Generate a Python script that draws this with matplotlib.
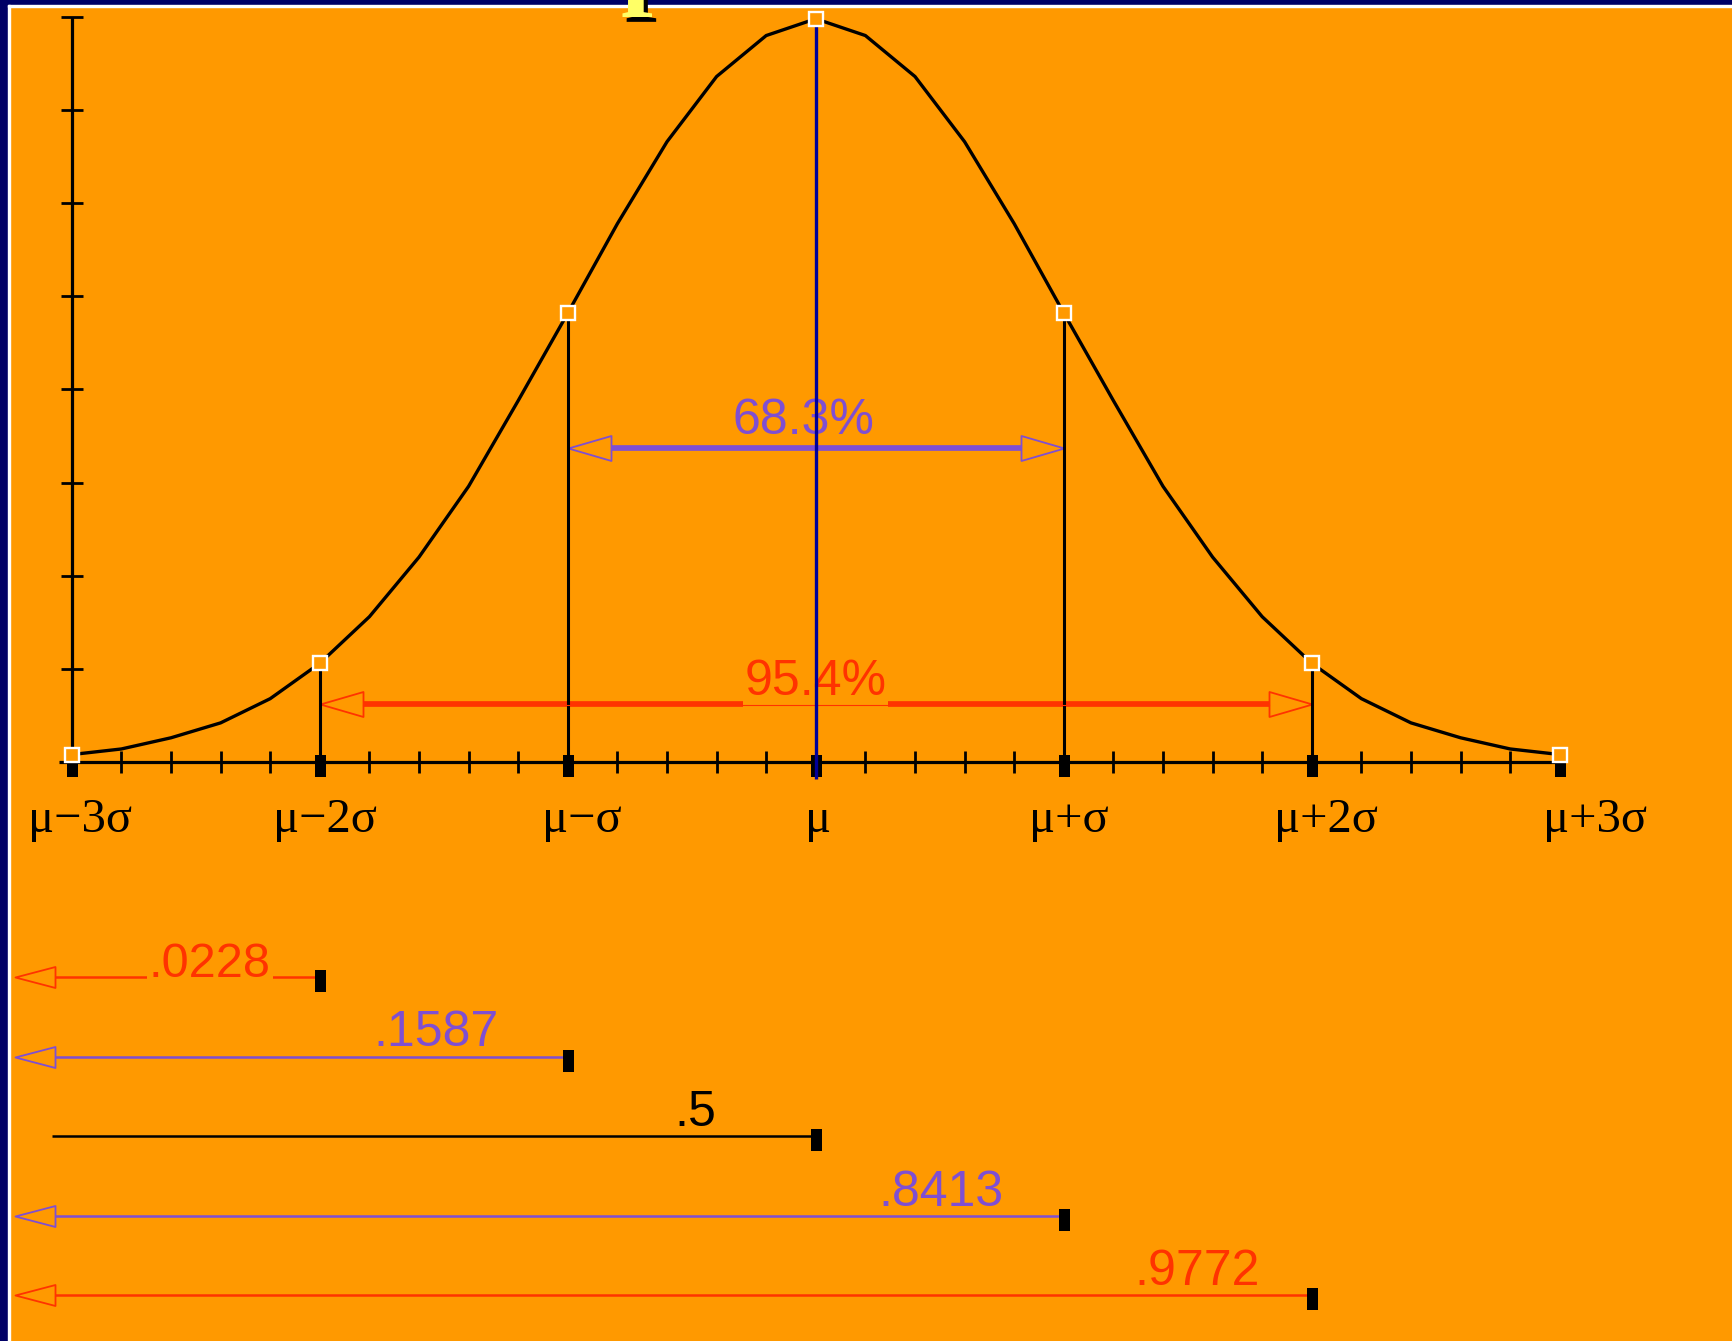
import matplotlib
matplotlib.use("Agg")
import matplotlib.pyplot as plt
import matplotlib.patheffects as pe
from matplotlib.patches import Rectangle
from matplotlib.path import Path

# standard normal curve, one vertex every 0.2 sigma
z_points = [-3.0, -2.8, -2.6, -2.4, -2.2, -2.0, -1.8, -1.6, -1.4, -1.2, -1.0,
            -0.8, -0.6, -0.4, -0.2, 0.0, 0.2, 0.4, 0.6, 0.8, 1.0,
            1.2, 1.4, 1.6, 1.8, 2.0, 2.2, 2.4, 2.6, 2.8, 3.0]
density = [0.004, 0.007, 0.013, 0.021, 0.034, 0.053, 0.078, 0.110, 0.148, 0.194, 0.241,
           0.289, 0.333, 0.368, 0.390, 0.399, 0.390, 0.368, 0.333, 0.289, 0.241,
           0.194, 0.148, 0.110, 0.078, 0.053, 0.034, 0.021, 0.013, 0.007, 0.004]

sigma_pos = [-3, -2, -1, 0, 1, 2, 3]
sigma_labels = ["μ−3σ", "μ−2σ", "μ−σ", "μ", "μ+σ", "μ+2σ", "μ+3σ"]
y_ticks = [0.05, 0.10, 0.15, 0.20, 0.25, 0.30, 0.35, 0.40]

band_labels = ["68.3%", "95.4%"]
band_half = [1, 2]

cum_ends = [-2, -1, 0, 1, 2]
cum_labels = [".0228", ".1587", ".5", ".8413", ".9772"]

ORANGE = "#FF9900"
NAVY = "#000066"
PURPLE = "#7F4FD2"
RED = "#FF3300"
cum_colors = [RED, PURPLE, "black", PURPLE, RED]

# layout (pixels on a 1732 x 1341 canvas)
W, H = 1732, 1341
X0, SIG = 71.8, 248.0          # x of mu-3sigma, pixels per sigma
BASE, YPX = 762.0, 1862.7      # baseline y, pixels per density unit
ROW0, ROWPX = 977.0, 79.5      # first cumulative row, row spacing
PT = 0.72                      # points per pixel at 100 dpi

band_y = [0.1687, 0.0314]
band_text_x = [-0.05, 0.0]
label_x = [-2.965, -1.979, -0.943, 0.011, 1.021, 2.055, 3.142]
cum_text_x = [-2.443, -1.53, -0.487, 0.503, 1.536]
LEFT_TIP = -3.23


def head(length, half, left=True):
    s = 1 if left else -1
    verts = [(0, 0), (s * length, half), (s * length, -half), (0, 0)]
    return Path(verts, closed=True), 1.44 * max(length, half)


rect_path = Path([(-5.5, -15), (5.5, -15), (5.5, 7), (-5.5, 7), (-5.5, -15)], closed=True)
RECT_MS = 1.44 * 15

fig = plt.figure(figsize=(W / 100, H / 100), dpi=100, facecolor=ORANGE)

ax = fig.add_axes([0, 0, 1, 1])
ax.set_axis_off()
ax.patch.set_alpha(0)
ax.set_xlim(-3 - X0 / SIG, -3 + (W - X0) / SIG)
ax.set_ylim(-(H - BASE) / YPX, BASE / YPX)

# axes with crossing ticks
ax.plot([-3, -3], [0, y_ticks[-1]], color="black", lw=2.3, solid_capstyle="butt", zorder=2)
ax.plot([-3] * len(y_ticks), y_ticks, ls="none", marker="_", ms=16.5, mew=2, color="black", zorder=2)
ax.plot([-3.05, 3.0], [0, 0], color="black", lw=2.3, solid_capstyle="butt", zorder=2)
ax.plot(z_points, [0] * len(z_points), ls="none", marker="|", ms=16.5, mew=2, color="black", zorder=2)

# the curve
ax.plot(z_points, density, color="black", lw=2.4, zorder=3)

dens_at = [density[z_points.index(float(s))] for s in sigma_pos]
drops = [s for s in sigma_pos if s not in (-3, 0, 3)]
ax.vlines(drops, 0, [dens_at[sigma_pos.index(s)] for s in drops], color="black", lw=2.2, zorder=4)
ax.plot([0, 0], [dens_at[3], -0.009], color="#000099", lw=2.4, solid_capstyle="butt", zorder=6)

ax.plot(sigma_pos, [0] * len(sigma_pos), ls="none", marker=rect_path, ms=RECT_MS,
        color="black", mew=0, zorder=5)
ax.plot(sigma_pos, dens_at, ls="none", marker="s", ms=10.5, mfc=ORANGE, mec="white", mew=1.7, zorder=7)

for lab, x in zip(sigma_labels, label_x):
    ax.annotate(lab, (x, 0), xytext=(0, -70 * PT), textcoords="offset points",
                ha="center", va="baseline", fontsize=35,
                family=["Liberation Serif", "DejaVu Serif"], color="black")

# central bands
for lab, k, y, tx, col in zip(band_labels, band_half, band_y, band_text_x, [PURPLE, RED]):
    hl = 43 / SIG
    ax.plot([-k + hl, k - hl], [y, y], color=col, lw=4.1, solid_capstyle="butt", zorder=2)
    pl, msl = head(43, 12.5, left=True)
    pr, msr = head(43, 12.5, left=False)
    ax.plot([-k], [y], ls="none", marker=pl, ms=msl, mfc="none", mec=col, mew=1.3, zorder=3)
    ax.plot([k], [y], ls="none", marker=pr, ms=msr, mfc="none", mec=col, mew=1.3, zorder=3)
    box = None
    if k == 2:
        box = dict(boxstyle="square,pad=0.03", fc=ORANGE, ec="none")
    ax.annotate(lab, (tx, y), xytext=(0, (14 if k == 1 else 8.5) * PT), textcoords="offset points",
                ha="center", va="baseline", fontsize=36, family="Liberation Sans",
                color=col, bbox=box, zorder=4)
    if k == 2:
        ax.plot([-k + hl, k - hl], [y - 1.5 / YPX] * 2, color=col, lw=0.8, zorder=4.5)

# cumulative probabilities
ax2 = fig.add_axes([0, 0, 1, 1])
ax2.set_axis_off()
ax2.patch.set_alpha(0)
ax2.set_xlim(ax.get_xlim())
ax2.set_ylim((H - ROW0) / ROWPX, -ROW0 / ROWPX)

for row, (end, lab, col, tx) in enumerate(zip(cum_ends, cum_labels, cum_colors, cum_text_x)):
    if lab == ".5":
        ax2.plot([-3.08, end], [row, row], color=col, lw=1.8, solid_capstyle="butt", zorder=2)
    else:
        ax2.plot([LEFT_TIP + 40 / SIG, end], [row, row], color=col, lw=1.8, solid_capstyle="butt", zorder=2)
        pth, ms = head(40, 10.5, left=True)
        ax2.plot([LEFT_TIP], [row], ls="none", marker=pth, ms=ms, mfc="none", mec=col, mew=1.3, zorder=3)
    ax2.plot([end], [row], ls="none", marker=rect_path, ms=RECT_MS, color="black", mew=0, zorder=4)
    if row == 0:
        ax2.annotate(lab, (tx, row), xytext=(0, 0), textcoords="offset points",
                     ha="center", va="baseline", fontsize=35, family="Liberation Sans", color=col,
                     bbox=dict(boxstyle="square,pad=0.05", fc=ORANGE, ec="none"), zorder=3)
    else:
        ax2.annotate(lab, (tx, row), xytext=(0, 10 * PT), textcoords="offset points",
                     ha="center", va="baseline", fontsize=36, family="Liberation Sans", color=col, zorder=3)

# slide frame and the foot of the title letter running off the top
fig.add_artist(Rectangle((0, 0), 8 / W, 1, transform=fig.transFigure, color=NAVY, zorder=10))
fig.add_artist(Rectangle((0, 1 - 5 / H), 1, 5 / H, transform=fig.transFigure, color=NAVY, zorder=10))
fig.add_artist(Rectangle((8 / W, 0), 2 / W, 1 - 5 / H, transform=fig.transFigure, color="white", zorder=10))
fig.add_artist(Rectangle((8 / W, 1 - 7 / H), 1 - 8 / W, 2 / H, transform=fig.transFigure, color="white", zorder=10))
fig.text(638 / W, 1 - 17 / H, "f", fontsize=80, family="Liberation Serif", weight="bold",
         color="#FFFF66", ha="center", va="baseline", zorder=11,
         path_effects=[pe.withSimplePatchShadow(offset=(3, -3.5), shadow_rgbFace="black", alpha=1)])

fig.savefig("out.png", dpi=100, facecolor=ORANGE)
